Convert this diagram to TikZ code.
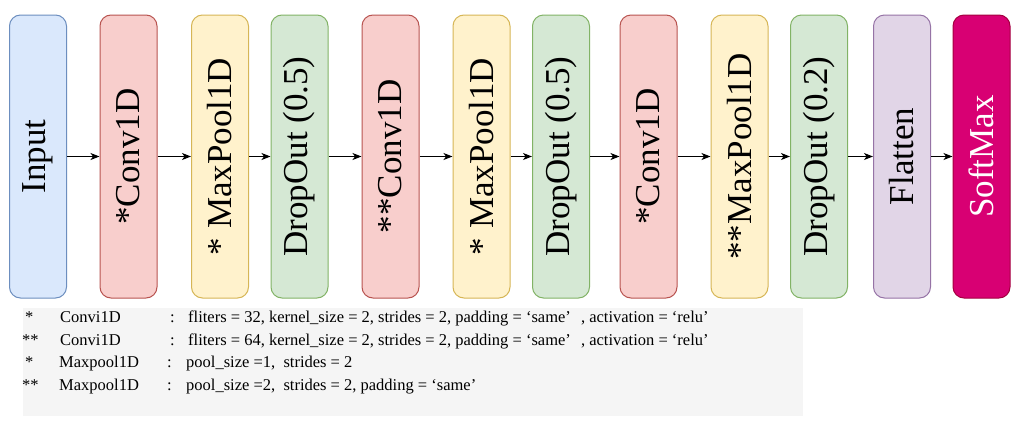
\documentclass[tikz,border=0pt]{standalone}
\usepackage{fontspec}
\setmainfont{Liberation Serif}
\usetikzlibrary{arrows.meta}
\definecolor{blueF}{HTML}{DAE8FC}\definecolor{blueD}{HTML}{6C8EBF}
\definecolor{redF}{HTML}{F8CECC}\definecolor{redD}{HTML}{B85450}
\definecolor{yelF}{HTML}{FFF2CC}\definecolor{yelD}{HTML}{D6B656}
\definecolor{grnF}{HTML}{D5E8D4}\definecolor{grnD}{HTML}{82B366}
\definecolor{purF}{HTML}{E1D5E7}\definecolor{purD}{HTML}{9673A6}
\definecolor{magF}{HTML}{D80073}\definecolor{magD}{HTML}{A50040}
\definecolor{panel}{HTML}{F5F5F5}
\begin{document}
\begin{tikzpicture}[x=1pt,y=-1pt,
  lay/.style={rotate=90, rounded corners=11pt, line width=1pt,
    minimum width=283pt, minimum height=57pt, inner sep=0pt,
    font=\fontsize{35}{40}\selectfont},
  blu/.style={lay, fill=blueF, draw=blueD},
  rd/.style={lay, fill=redF, draw=redD},
  yl/.style={lay, fill=yelF, draw=yelD},
  gn/.style={lay, fill=grnF, draw=grnD},
  pu/.style={lay, fill=purF, draw=purD},
  mg/.style={lay, fill=magF, draw=magD, text=white},
  conn/.style={line width=1.2pt, -{Stealth[length=9pt,width=7pt,inset=2.5pt]}},
  note/.style={anchor=base west, inner sep=0pt, font=\fontsize{16.5}{20}\selectfont}
]
\useasboundingbox (0,0) rectangle (1021,426);
\fill[white] (0,0) rectangle (1021,426);
\fill[panel] (23,308) rectangle (803,416);

\node[blu] (n1) at (38,156.5) {Input};
\node[rd] (n2) at (128.5,156.5) {*Conv1D};
\node[yl] (n3) at (220,156.5) {* MaxPool1D};
\node[gn] (n4) at (299.5,156.5) {DropOut (0.5)};
\node[rd] (n5) at (390.5,156.5) {**Conv1D};
\node[yl] (n6) at (481.5,156.5) {* MaxPool1D};
\node[gn] (n7) at (561,156.5) {DropOut (0.5)};
\node[rd] (n8) at (648.5,156.5) {*Conv1D};
\node[yl] (n9) at (739.5,156.5) {**MaxPool1D};
\node[gn] (n10) at (819,156.5) {DropOut (0.2)};
\node[pu] (n11) at (902,156.5) {Flatten};
\node[mg] (n12) at (981.5,156.5) {SoftMax};

\foreach \a/\b in {n1/n2,n2/n3,n3/n4,n4/n5,n5/n6,n6/n7,n7/n8,n8/n9,n9/n10,n10/n11,n11/n12}
  \draw[conn] (\a) -- (\b);

\node[note] (s1) at (25,322) {*};
\node[note] (c1) at (60,322) {Convi1D};
\node[note] (k1) at (170,322) {:};
\node[note] (t1) at (188,322) {fliters = 32, kernel\_size = 2, strides = 2, padding = ‘same’\hspace{6pt} , activation = ‘relu’};
\node[note] (s2) at (22,345) {**};
\node[note] (c2) at (60,345) {Convi1D};
\node[note] (k2) at (170,345) {:};
\node[note] (t2) at (188,345) {fliters = 64, kernel\_size = 2, strides = 2, padding = ‘same’\hspace{6pt} , activation = ‘relu’};
\node[note] (s3) at (25,367) {*};
\node[note] (c3) at (59,367) {Maxpool1D};
\node[note] (k3) at (167,367) {:};
\node[note] (t3) at (186,367) {pool\_size =1,\ \ strides = 2};
\node[note] (s4) at (22,390) {**};
\node[note] (c4) at (59,390) {Maxpool1D};
\node[note] (k4) at (167,390) {:};
\node[note] (t4) at (186,390) {pool\_size =2,\ \ strides = 2, padding = ‘same’};
\end{tikzpicture}
\end{document}
